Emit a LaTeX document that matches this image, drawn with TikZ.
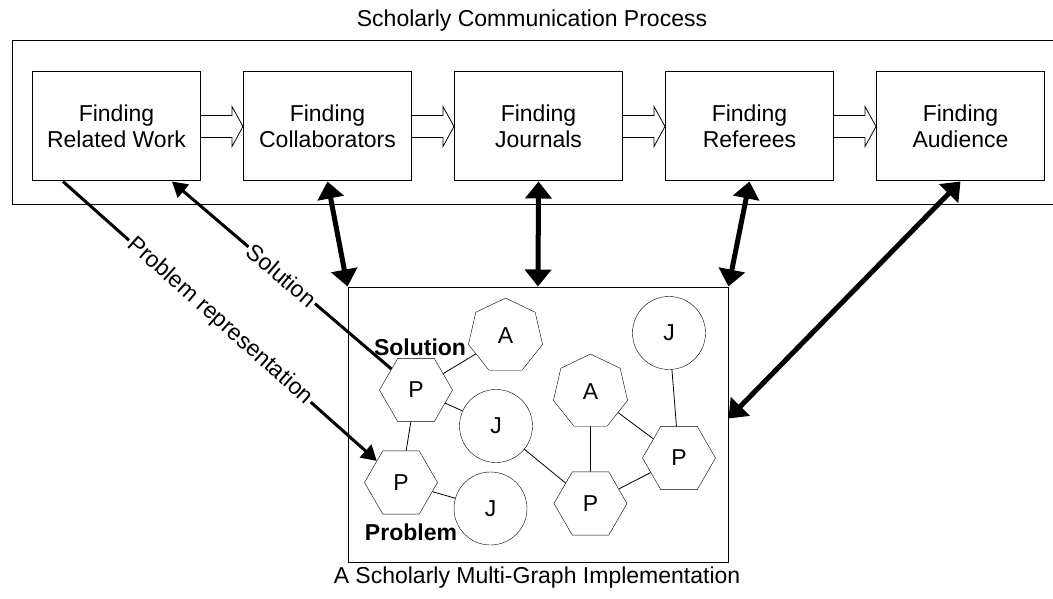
\documentclass[tikz,border=0pt]{standalone}
\usepackage{fontspec}
\setmainfont{Liberation Sans}
\usetikzlibrary{positioning,calc,shapes.geometric,arrows.meta}

\tikzset{
  stage/.style={draw, line width=1pt, minimum width=168, minimum height=109, align=center, inner sep=0pt},
  flowarrow/.style={line width=0.8pt, line join=miter},
  pnode/.style={regular polygon, regular polygon sides=6, draw, minimum size=73, inner sep=0pt},
  anode/.style={regular polygon, regular polygon sides=7, draw, minimum size=76, inner sep=0pt},
  jnode/.style={circle, draw, minimum size=73, inner sep=0pt},
  link/.style={line width=0.8pt},
  dualarrow/.style={line width=5pt, {Triangle[width=26pt,length=17pt]}-{Triangle[width=26pt,length=17pt]}},
  medarrow/.style={line width=3pt, -{Triangle[width=17pt,length=15pt]}},
}

\begin{document}
\begin{tikzpicture}[x=1pt, y=-1pt, font=\fontsize{23}{26}\selectfont]
    \useasboundingbox (0,0) rectangle (1053,599);

    % Process frame
    \node[draw, line width=1pt, minimum width=1041, minimum height=164, inner sep=0pt] (proc) at (532.5,123) {};
    \node[anchor=base] (title) at (532,27) {Scholarly Communication Process};

    % Stages
    \node[stage] (b1) at (116.5,126.5) {Finding\\Related Work};
    \node[stage, right=42pt of b1] (b2) {Finding\\Collaborators};
    \node[stage, right=42pt of b2] (b3) {Finding\\Journals};
    \node[stage, right=42pt of b3] (b4) {Finding\\Referees};
    \node[stage, right=42pt of b4] (b5) {Finding\\Audience};

    % Hollow arrows between stages
    \foreach \a/\b in {b1/b2, b2/b3, b3/b4, b4/b5}
        \draw[flowarrow] ([yshift=11pt]\a.east) -- ++(31,0) -- ++(0,-9) -- (\b.west)
            -- ++(-11,20) -- ++(0,-9) -- ([yshift=-11pt]\a.east);

    % Multi-graph
    \node[draw, line width=1pt, minimum width=380, minimum height=275, inner sep=0pt] (mg) at (538,424.5) {};
    \node[anchor=base] (caption) at (537,583) {A Scholarly Multi-Graph Implementation};

    \node[anode] (a1) at (505.5,336) {A};
    \node[pnode] (psol) at (416,390) {P};
    \node[jnode] (j1) at (496,426) {J};
    \node[pnode] (pprob) at (401,482.5) {P};
    \node[jnode] (j2) at (490.5,508.5) {J};
    \node[anode] (a2) at (590.5,392) {A};
    \node[jnode] (j3) at (669,333) {J};
    \node[pnode] (p3) at (679,458) {P};
    \node[pnode] (p4) at (590.5,503.5) {P};

    \node[font=\fontsize{23}{26}\selectfont\bfseries] (soltext) at (420,347) {Solution};
    \node[font=\fontsize{23}{26}\selectfont\bfseries] (probtext) at (411,532) {Problem};

    \foreach \u/\v in {psol/a1, psol/j1, psol/pprob, pprob/j2, j1/p4, a2/p4, a2/p3, j3/p3, p4/p3}
        \draw[link] (\u) -- (\v);

    % Links between process and graph
    \draw[medarrow] (psol) -- node[sloped, fill=white, inner sep=2pt] {Solution} ([xshift=-29pt]b1.south east);
    \draw[medarrow] ([xshift=31pt]b1.south west) -- node[sloped, fill=white, inner sep=2pt] {Problem representation} (pprob);

    \draw[dualarrow] (b2.south) -- (mg.north west);
    \draw[dualarrow] (b3.south) -- (mg.north);
    \draw[dualarrow] (b4.south) -- (mg.north east);
    \draw[dualarrow] (b5.south) -- ([yshift=6pt]mg.east);
\end{tikzpicture}
\end{document}
